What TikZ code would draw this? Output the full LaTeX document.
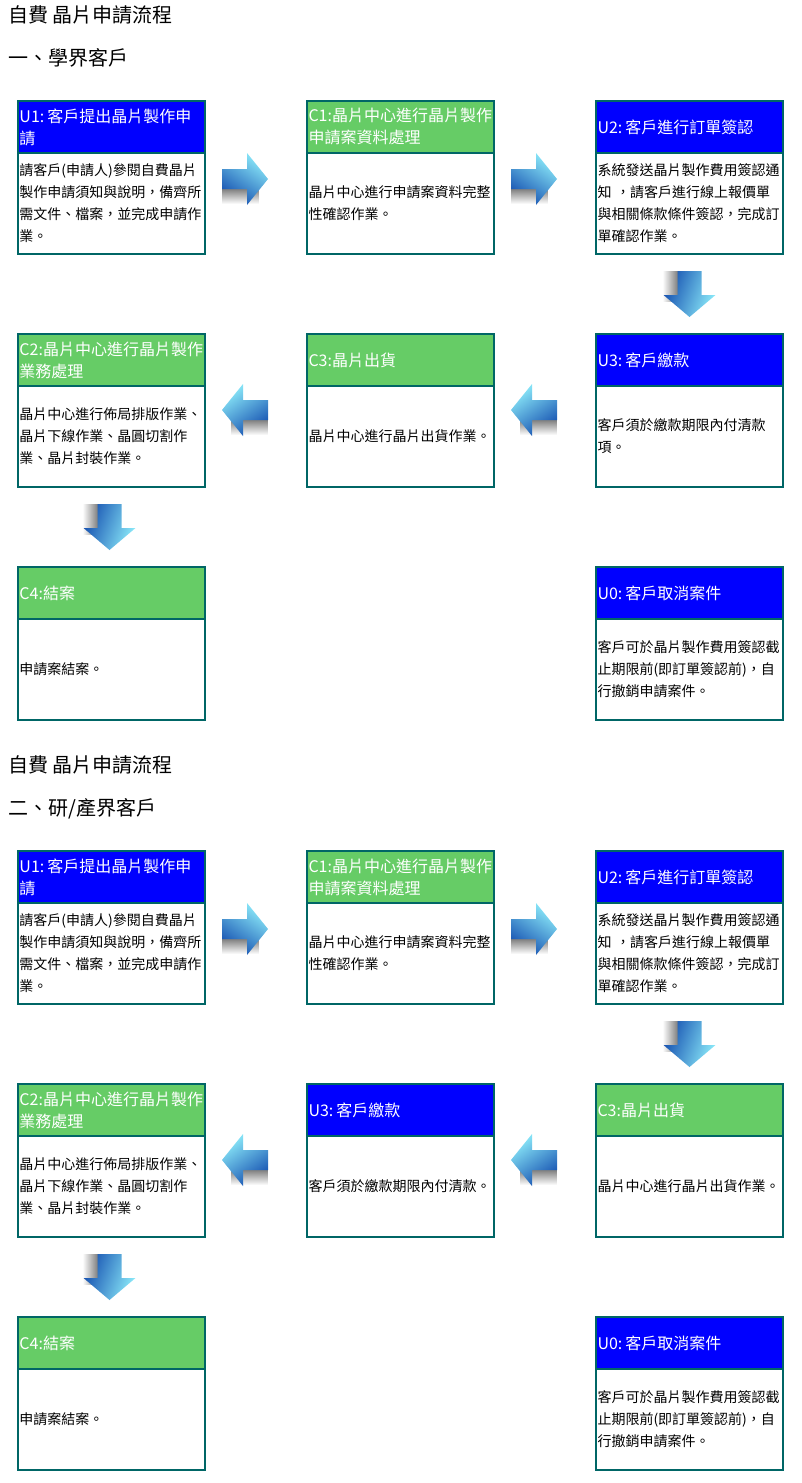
\documentclass[tikz,border=0pt]{standalone}
\usepackage{fontspec}
\newfontfamily\cjk{Noto Sans CJK TC}
\usetikzlibrary{calc,fadings}

\definecolor{hdrblue}{HTML}{0000FF}
\definecolor{hdrgreen}{HTML}{66CC66}
\definecolor{boxline}{HTML}{006666}
\definecolor{arrowdark}{HTML}{1550B0}
\definecolor{arrowmid}{HTML}{2F8FE3}
\definecolor{arrowlight}{HTML}{8CEBFA}

\tikzset{
  stagehead/.style={draw=boxline, line width=2pt, outer sep=0pt, anchor=north west,
    minimum width=187pt, minimum height=52pt, text width=184pt, inner xsep=1.5pt,
    inner ysep=0pt, align=left, text=white, font=\cjk\fontsize{16}{22}\selectfont},
  userhead/.style={stagehead, fill=hdrblue},
  centerhead/.style={stagehead, fill=hdrgreen},
  stagebody/.style={draw=boxline, line width=2pt, outer sep=0pt, anchor=north west,
    minimum width=187pt, minimum height=101pt, text width=184pt, inner xsep=1.5pt,
    inner ysep=0pt, align=left, fill=white, font=\cjk\fontsize{14}{22}\selectfont},
  pagetitle/.style={anchor=base west, inner sep=0pt, font=\cjk\fontsize{20}{24}\selectfont},
  arrowshadow/.style={fill=black!50},
  arrowbody/.style={top color=arrowlight, middle color=arrowmid, bottom color=arrowdark},
}

% narrow gap after the stage code, e.g. "U1: "
\newcommand\codegap{\hspace{3pt}}

% one stage: coloured title bar on top of a white description box
\newcommand\stage[6]{%
  \node[#4] (#1h) at (#2,#3) {#5};
  \node[stagebody] (#1b) at (#1h.south west) {#6};
}

% block arrows, drawn around a named centre point
\newcommand\arrowright[1]{%
  \begin{scope}[shift={(#1)}]
    \fill[arrowshadow, path fading=south] (-23,10) rectangle (14,25);
    \shade[arrowbody, shading angle=-35] (-23,-10) -- (2,-10) -- (2,-26) -- (23,0)
      -- (2,26) -- (2,10) -- (-23,10) -- cycle;
  \end{scope}}
\newcommand\arrowleft[1]{%
  \begin{scope}[shift={(#1)}]
    \fill[arrowshadow, path fading=south] (-14,10) rectangle (23,25);
    \shade[arrowbody, shading angle=35] (23,-10) -- (-2,-10) -- (-2,-26) -- (-23,0)
      -- (-2,26) -- (-2,10) -- (23,10) -- cycle;
  \end{scope}}
\newcommand\arrowdown[1]{%
  \begin{scope}[shift={(#1)}]
    \fill[arrowshadow, path fading=west] (-27,-23) rectangle (-12,8);
    \shade[arrowbody, shading angle=-110] (-12,-23) -- (12,-23) -- (12,1) -- (26,1)
      -- (0,23) -- (-26,1) -- (-12,1) -- cycle;
  \end{scope}}

\begin{document}
\begin{tikzpicture}[x=1pt,y=-1pt]
\useasboundingbox (0,0) rectangle (802,1483);

% ---------------- part 1: academic customers ----------------
\node[pagetitle] (t1) at (8,22) {自費 晶片申請流程};
\node[pagetitle] (s1) at (8,65) {一、學界客戶};

\stage{a-u1}{18}{101}{userhead}{U1:\codegap 客戶提出晶片製作申\\請}
  {請客戶(申請人)參閱自費晶片\\製作申請須知與說明，備齊所\\需文件、檔案，並完成申請作\\業。}
\stage{a-c1}{307}{101}{centerhead}{C1:晶片中心進行晶片製作\\申請案資料處理}
  {晶片中心進行申請案資料完整\\性確認作業。}
\stage{a-u2}{596}{101}{userhead}{U2:\codegap 客戶進行訂單簽認}
  {系統發送晶片製作費用簽認通\\知 ，請客戶進行線上報價單\\與相關條款條件簽認，完成訂\\單確認作業。}
\stage{a-c2}{18}{334}{centerhead}{C2:晶片中心進行晶片製作\\業務處理}
  {晶片中心進行佈局排版作業、\\晶片下線作業、晶圓切割作\\業、晶片封裝作業。}
\stage{a-c3}{307}{334}{centerhead}{C3:晶片出貨}
  {晶片中心進行晶片出貨作業。}
\stage{a-u3}{596}{334}{userhead}{U3:\codegap 客戶繳款}
  {客戶須於繳款期限內付清款\\項。}
\stage{a-c4}{18}{567}{centerhead}{C4:結案}
  {申請案結案。}
\stage{a-u0}{596}{567}{userhead}{U0:\codegap 客戶取消案件}
  {客戶可於晶片製作費用簽認截\\止期限前(即訂單簽認前)，自\\行撤銷申請案件。}

\coordinate (a-r1) at ($(a-u1b.north east)!0.5!(a-c1b.north west)+(-11,26)$);
\coordinate (a-r2) at ($(a-c1b.north east)!0.5!(a-u2b.north west)+(-11,26)$);
\coordinate (a-d1) at ($(a-u2b.south)!0.5!(a-u3h.north)$);
\coordinate (a-l1) at ($(a-c3b.north east)!0.5!(a-u3b.north west)+(-11,24)$);
\coordinate (a-l2) at ($(a-c2b.north east)!0.5!(a-c3b.north west)+(-11,24)$);
\coordinate (a-d2) at ($(a-c2b.south)!0.5!(a-c4h.north)+(-2,0)$);
\arrowright{a-r1}
\arrowright{a-r2}
\arrowdown{a-d1}
\arrowleft{a-l1}
\arrowleft{a-l2}
\arrowdown{a-d2}

% ---------------- part 2: research / industry customers ----------------
\node[pagetitle] (t2) at (8,772) {自費 晶片申請流程};
\node[pagetitle] (s2) at (8,815) {二、研/產界客戶};

\stage{b-u1}{18}{851}{userhead}{U1:\codegap 客戶提出晶片製作申\\請}
  {請客戶(申請人)參閱自費晶片\\製作申請須知與說明，備齊所\\需文件、檔案，並完成申請作\\業。}
\stage{b-c1}{307}{851}{centerhead}{C1:晶片中心進行晶片製作\\申請案資料處理}
  {晶片中心進行申請案資料完整\\性確認作業。}
\stage{b-u2}{596}{851}{userhead}{U2:\codegap 客戶進行訂單簽認}
  {系統發送晶片製作費用簽認通\\知 ，請客戶進行線上報價單\\與相關條款條件簽認，完成訂\\單確認作業。}
\stage{b-c2}{18}{1084}{centerhead}{C2:晶片中心進行晶片製作\\業務處理}
  {晶片中心進行佈局排版作業、\\晶片下線作業、晶圓切割作\\業、晶片封裝作業。}
\stage{b-u3}{307}{1084}{userhead}{U3:\codegap 客戶繳款}
  {客戶須於繳款期限內付清款。}
\stage{b-c3}{596}{1084}{centerhead}{C3:晶片出貨}
  {晶片中心進行晶片出貨作業。}
\stage{b-c4}{18}{1317}{centerhead}{C4:結案}
  {申請案結案。}
\stage{b-u0}{596}{1317}{userhead}{U0:\codegap 客戶取消案件}
  {客戶可於晶片製作費用簽認截\\止期限前(即訂單簽認前)，自\\行撤銷申請案件。}

\coordinate (b-r1) at ($(b-u1b.north east)!0.5!(b-c1b.north west)+(-11,26)$);
\coordinate (b-r2) at ($(b-c1b.north east)!0.5!(b-u2b.north west)+(-11,26)$);
\coordinate (b-d1) at ($(b-u2b.south)!0.5!(b-c3h.north)$);
\coordinate (b-l1) at ($(b-u3b.north east)!0.5!(b-c3b.north west)+(-11,24)$);
\coordinate (b-l2) at ($(b-c2b.north east)!0.5!(b-u3b.north west)+(-11,24)$);
\coordinate (b-d2) at ($(b-c2b.south)!0.5!(b-c4h.north)+(-2,0)$);
\arrowright{b-r1}
\arrowright{b-r2}
\arrowdown{b-d1}
\arrowleft{b-l1}
\arrowleft{b-l2}
\arrowdown{b-d2}
\end{tikzpicture}
\end{document}
